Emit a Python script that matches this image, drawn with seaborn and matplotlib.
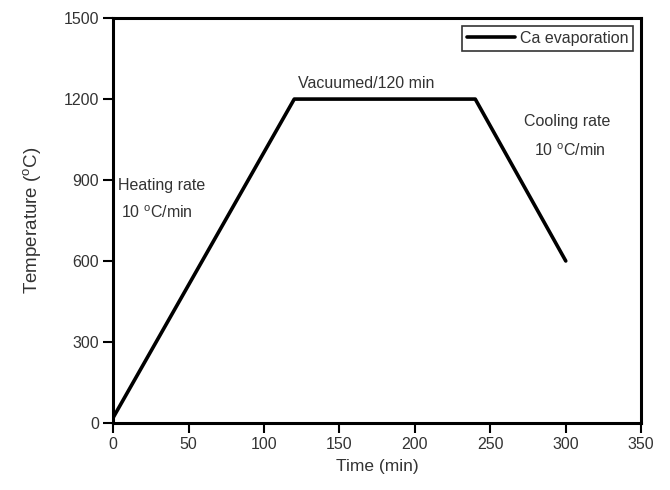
import matplotlib
matplotlib.use("Agg")
import matplotlib.pyplot as plt
import seaborn as sns
import pandas as pd

time_min = [0, 120, 240, 300]
temperature_c = [20, 1200, 1200, 600]
series_label = "Ca evaporation"
x_ticks = [0, 50, 100, 150, 200, 250, 300, 350]
y_ticks = [0, 300, 600, 900, 1200, 1500]

df = pd.DataFrame({"Time": time_min, "Temp": temperature_c, "Series": series_label})

sns.set_theme(style="white")
plt.rcParams['font.family'] = ['Liberation Sans', 'DejaVu Sans']
plt.rcParams['mathtext.fontset'] = 'custom'
plt.rcParams['mathtext.rm'] = 'Liberation Sans'

fig, ax = plt.subplots(figsize=(6.7, 4.9), dpi=100)
fig.subplots_adjust(left=0.169, right=0.957, top=0.963, bottom=0.137)

sns.lineplot(data=df, x="Time", y="Temp", hue="Series", palette=["black"],
             linewidth=2.6, ax=ax, sort=False)

ax.set_xlim(0, 350)
ax.set_ylim(0, 1500)
ax.set_xticks(x_ticks)
ax.set_yticks(y_ticks)
ax.tick_params(axis='both', direction='out', length=7, width=1.5, colors='black',
               labelcolor='#333333', labelsize=11.5, pad=3,
               bottom=True, left=True, top=False, right=False)
for s in ax.spines.values():
    s.set_color('black')
    s.set_linewidth(2.2)

ax.set_xlabel("Time (min)", fontsize=12.5, color='#333333', labelpad=5)
ax.set_ylabel("Temperature ($^{\\rm o}$C)", fontsize=13.5, color='#333333', labelpad=14)

txtkw = dict(fontsize=11.5, color='#333333')
ax.text(3, 880, "Heating rate", ha='left', va='center', **txtkw)
ax.text(5, 778, "10 $^{\\rm o}$C/min", ha='left', va='center', **txtkw)
ax.text(168, 1258, "Vacuumed/120 min", ha='center', va='center', **txtkw)
ax.text(272, 1118, "Cooling rate", ha='left', va='center', **txtkw)
ax.text(279, 1008, "10 $^{\\rm o}$C/min", ha='left', va='center', **txtkw)

leg = ax.legend(loc='upper right', frameon=True, fancybox=False, fontsize=11.5,
                handlelength=3.0, borderpad=0.3, borderaxespad=0.5, handletextpad=0.3)
leg.get_frame().set_edgecolor('black')
leg.get_frame().set_linewidth(1.2)
for t in leg.get_texts():
    t.set_color('#333333')

fig.savefig("out.png", dpi=100)
